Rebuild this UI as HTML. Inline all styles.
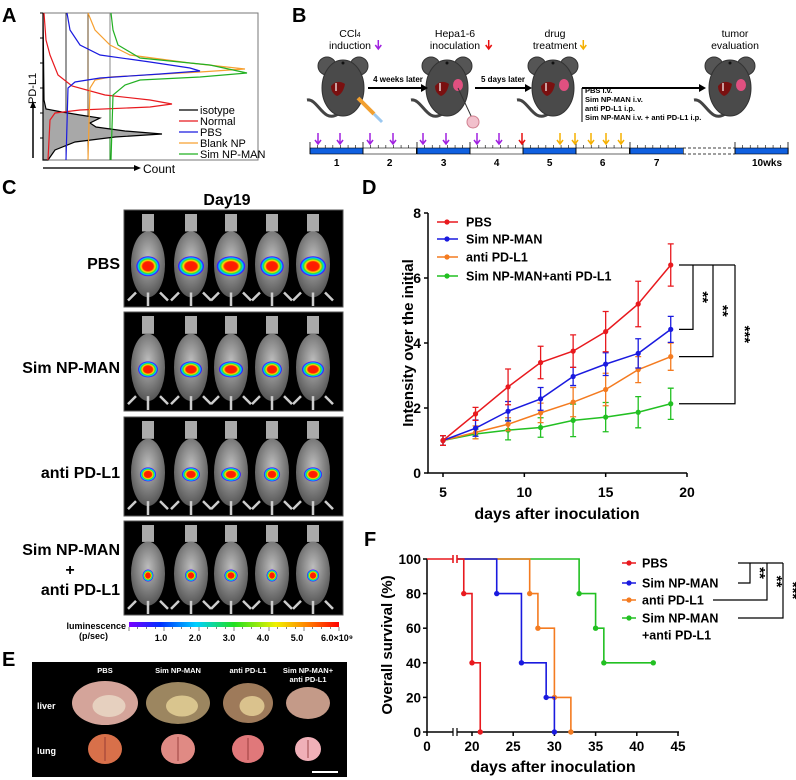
<!DOCTYPE html>
<html><head><meta charset="utf-8"><style>
html,body{margin:0;padding:0;background:#fff;}
svg{display:block;font-family:"Liberation Sans",Arial,sans-serif;}
</style></head><body>
<svg id="fig" width="796" height="780" viewBox="0 0 796 780" xmlns="http://www.w3.org/2000/svg">
<defs>
<radialGradient id="heat" cx="50%" cy="50%" r="50%">
<stop offset="0%" stop-color="#ff1a00"/><stop offset="45%" stop-color="#ff2000"/><stop offset="60%" stop-color="#ffe000"/><stop offset="72%" stop-color="#30e030"/><stop offset="84%" stop-color="#00c8ff"/><stop offset="94%" stop-color="#2030ff"/><stop offset="100%" stop-color="#7000ff"/>
</radialGradient>
<linearGradient id="cbar" x1="0" x2="1" y1="0" y2="0">
<stop offset="0%" stop-color="#7a00ff"/><stop offset="15%" stop-color="#0030ff"/><stop offset="32%" stop-color="#00d0ff"/><stop offset="50%" stop-color="#20e020"/><stop offset="70%" stop-color="#f0f000"/><stop offset="85%" stop-color="#ff8000"/><stop offset="100%" stop-color="#ff0000"/>
</linearGradient>
<radialGradient id="mouseg" cx="50%" cy="40%" r="60%"><stop offset="0%" stop-color="#bdbdbd"/><stop offset="100%" stop-color="#555"/></radialGradient>
</defs>

<text x="2" y="22" font-size="20" font-weight="bold">A</text>
<text x="292" y="22" font-size="20" font-weight="bold">B</text>
<text x="2" y="194" font-size="20" font-weight="bold">C</text>
<text x="362" y="194" font-size="20" font-weight="bold">D</text>
<text x="2" y="666" font-size="20" font-weight="bold">E</text>
<text x="364" y="546" font-size="20" font-weight="bold">F</text>

<g id="panelA">
<rect x="43" y="13" width="215" height="147" fill="none" stroke="#777" stroke-width="1"/>
<line x1="43" y1="13" x2="43" y2="160" stroke="#000" stroke-width="1"/>
<g id="aTicks"></g>
<g id="aCurves"></g>
<line x1="33" y1="158" x2="33" y2="106" stroke="#000" stroke-width="1.5"/>
<polygon points="33,101 30,108 36,108" fill="#000"/>
<text x="0" y="0" transform="translate(36,104) rotate(-90)" font-size="11">PD-L1</text>
<line x1="43" y1="168" x2="136" y2="168" stroke="#555" stroke-width="2"/>
<polygon points="141,168 134,165 134,171" fill="#000"/>
<text x="143" y="173" font-size="12">Count</text>
<g id="aLegend"></g>
</g>

<g id="panelB"></g>

<g id="panelC">
<text x="227" y="205" font-size="16" font-weight="bold" text-anchor="middle">Day19</text>
</g>

<g id="panelE"></g>
<g id="panelD"></g>
<g id="panelF"></g>
</svg>
<script>
// ---------- Panel D data ----------
const dDays = [5,7,9,11,13,15,17,19];
const dSeriesNames = ["PBS","Sim NP-MAN","anti PD-L1","Sim NP-MAN+anti PD-L1"];
const dPBS = [1,1.82,2.65,3.4,3.75,4.35,5.2,6.4];
const dPBSErr = [0.15,0.2,0.55,0.5,0.5,0.62,0.7,0.65];
const dSim = [1,1.38,1.9,2.28,2.97,3.35,3.68,4.42];
const dSimErr = [0.15,0.25,0.3,0.35,0.28,0.35,0.45,0.4];
const dAnti = [1,1.25,1.5,1.85,2.18,2.57,3.18,3.58];
const dAntiErr = [0.15,0.2,0.2,0.3,0.45,0.5,0.4,0.42];
const dCombo = [1,1.2,1.32,1.4,1.62,1.72,1.87,2.13];
const dComboErr = [0.15,0.15,0.3,0.3,0.5,0.45,0.48,0.48];
const dYTicks = [0,2,4,6,8];
const dXTicks = [5,10,15,20];

// ---------- Panel F data ----------
const fNames = ["PBS","Sim NP-MAN","anti PD-L1","Sim NP-MAN\n+anti PD-L1"];
const fPBSTimes = [19,20,21];
const fPBSVals = [80,40,0];
const fSimTimes = [23,26,29,30];
const fSimVals = [80,40,20,0];
const fAntiTimes = [27,28,30,32];
const fAntiVals = [80,60,20,0];
const fComboTimes = [33,35,36,42];
const fComboVals = [80,60,40,40];
const fYTicks = [0,20,40,60,80,100];
const fXTicks = [0,20,25,30,35,40,45];

const COLORS = ["#e8191e","#1a1adf","#f47b20","#22c022"];
const NS = "http://www.w3.org/2000/svg";
function mk(tag, attrs, parent){const e=document.createElementNS(NS,tag);for(const k in attrs)e.setAttribute(k,attrs[k]);parent.appendChild(e);return e;}
function txt(parent,x,y,s,size,extra){const t=mk("text",Object.assign({x:x,y:y,"font-size":size,"font-weight":"bold"},extra||{}),parent);t.textContent=s;return t;}

// ---------- Panel A ----------
const aIso = [[160,48],[150,55],[142,75],[137,115],[134,162],[131,125],[127,96],[123,90],[118,100],[115,80],[112,62],[109,46],[100,44],[13,43]];
const aNormal = [[13,44],[40,46],[55,50],[75,58],[86,72],[95,105],[100,150],[104,172],[107,150],[110,80],[113,55],[120,50],[160,48]];
const aPBS = [[13,67],[30,70],[45,80],[55,100],[62,150],[68,190],[71,200],[74,160],[78,100],[82,75],[88,68],[160,66]];
const aBlank = [[13,88],[30,95],[45,110],[55,130],[63,190],[69,245],[72,200],[77,110],[80,95],[88,90],[160,88]];
const aSimNP = [[13,111],[30,113],[45,118],[58,140],[65,210],[73,247],[77,200],[80,140],[85,125],[95,113],[160,111]];
const aNames = ["isotype","Normal","PBS","Blank NP","Sim NP-MAN"];
(function(){
  const g=document.getElementById("aCurves");
  const tk=document.getElementById("aTicks");
  for(let i=0;i<6;i++){const y=13+i*25;const t=mk("line",{x1:40,y1:y,x2:43,y2:y,stroke:"#000"},tk);
  
  }
  [[66,"#333"],[88,"#6a4a20"],[110,"#888"]].forEach(function(v){const l=mk("line",{x1:v[0],y1:13,x2:v[0],y2:160,stroke:v[1],"stroke-width":1},g);
  
  });
  mk("line",{x1:110,y1:95,x2:110,y2:160,stroke:"#1a8a1a","stroke-width":1},g);
  const fill=mk("path",{d:"M43,160 "+aIso.map(p=>"L"+p[1]+","+p[0]).join(" ")+" Z",fill:"#a8a8a8",stroke:"#000","stroke-width":1.2},g);
  
  
  const sets=[[aNormal,"#e8191e","normal-histogram"],[aBlank,"#f7a030","blank-np-histogram"],[aPBS,"#1a1adf","pbs-histogram"],[aSimNP,"#22b022","sim-np-man-histogram"]];
  sets.forEach(function(s){const p=mk("path",{d:"M"+s[0].map(p=>p[1]+","+p[0]).join(" L"),fill:"none",stroke:s[1],"stroke-width":1.2},g);
  
  });
  const lg=document.getElementById("aLegend");
  const lc=["#000","#e8191e","#1a1adf","#f7a030","#22b022"];
  aNames.forEach(function(n,i){const y=110+i*11;
    const l=mk("line",{x1:179,y1:y,x2:198,y2:y,stroke:lc[i],"stroke-width":1.2},lg);
    
    
    const t=mk("text",{x:200,y:y+4,"font-size":11},lg);t.textContent=n;
    
    });
})();

// ---------- Panel B ----------
(function(){
  const g=document.getElementById("panelB");
  const titles=[[350,"CCl","induction","#a020e0","4"],[455,"Hepa1-6","inoculation","#e81010",""],[555,"drug","treatment","#f5b000",""],[735,"tumor","evaluation",null,""]];
  titles.forEach(function(t){
    const a=txt(g,t[0],37,t[1],10.5,{"text-anchor":"middle","font-weight":"normal"});
    if(t[4]){const s=document.createElementNS(NS,"tspan");s.setAttribute("font-size","7");s.textContent=t[4];a.appendChild(s);}
    
    
    const b=txt(g,t[0],49,t[2],10.5,{"text-anchor":"middle","font-weight":"normal"});
    
    
    if(t[3]){const w=t[2].length*5.4/2+4;const ax=t[0]+w;
      const ar=mk("path",{d:"M"+ax+",40 L"+ax+",48 M"+(ax-3)+",45 L"+ax+",49 L"+(ax+3)+",45",stroke:t[3],"stroke-width":1.5,fill:"none"},g);
      
      }
  });
  [343,447,553,730].forEach(function(cx,i){
    const cy=88;
    const m=mk("g",{},g);
    
    
    mk("path",{d:"M"+(cx-5)+","+(cy+26)+" C"+(cx-20)+","+(cy+36)+" "+(cx-25)+","+(cy+10)+" "+(cx-36)+","+(cy+12),stroke:"#444","stroke-width":3,fill:"none"},m);
    mk("circle",{cx:cx-16,cy:cy-22,r:9,fill:"#555",stroke:"#333"},m);
    mk("circle",{cx:cx+16,cy:cy-22,r:9,fill:"#555",stroke:"#333"},m);
    mk("ellipse",{cx:cx,cy:cy,rx:21,ry:28,fill:"#4a4a4a",stroke:"#333"},m);
    mk("circle",{cx:cx,cy:cy-25,r:1.5,fill:"#111"},m);
    mk("path",{d:"M"+(cx-12)+","+(cy-2)+" q6,-7 14,-2 q-2,10 -8,12 q-6,-3 -6,-10 z",fill:"#7a1010"},m);
    mk("line",{x1:cx-7,y1:cy-5,x2:cx-7,y2:cy+3,stroke:"#fff","stroke-width":1.2},m);
    if(i>0) mk("ellipse",{cx:cx+11,cy:cy-3,rx:5,ry:6,fill:"#e05080"},m);
  });
  mk("path",{d:"M358,98 l16,16",stroke:"#f2a030","stroke-width":4},g);
  mk("path",{d:"M374,114 l8,8",stroke:"#9bc8f0","stroke-width":3},g);
  mk("path",{d:"M458,88 l14,30",stroke:"#333","stroke-width":1},g);
  mk("circle",{cx:473,cy:122,r:6,fill:"#f2c0cc",stroke:"#d08090"},g);
  const arrows=[[368,428,"4 weeks later",398],[475,532,"5 days later",503],[582,706,null,0]];
  arrows.forEach(function(a){
    const l=mk("line",{x1:a[0],y1:88,x2:a[1]-5,y2:88,stroke:"#000","stroke-width":2},g);
    
    
    mk("polygon",{points:a[1]+",88 "+(a[1]-7)+",84 "+(a[1]-7)+",92",fill:"#000"},g);
    if(a[2]){const t=txt(g,a[3],82,a[2],8,{"text-anchor":"middle"});
    
    }
  });
  mk("line",{x1:582,y1:88,x2:582,y2:122,stroke:"#000","stroke-width":1},g);
  ["PBS i.v.","Sim NP-MAN i.v.","anti PD-L1 i.p.","Sim NP-MAN i.v. + anti PD-L1 i.p."].forEach(function(s,i){
    const t=txt(g,585,93+i*9,s,7.5);
    
    });
  const segX=[310,363,417,470,523,576,630,735];const segW=53.3;
  const fills=["#1060e0","#fff","#1060e0","#fff","#1060e0","#fff","#1060e0","#1060e0"];
  const labels=["1","2","3","4","5","6","7","10wks"];
  segX.forEach(function(x,i){
    const r=mk("rect",{x:x,y:148,width:segW,height:6,fill:fills[i],stroke:"#000","stroke-width":0.6},g);
    
    
    mk("line",{x1:x,y1:142,x2:x,y2:154,stroke:"#000","stroke-width":0.8},g);
    for(let k=1;k<7;k++){mk("line",{x1:x+k*segW/7,y1:145,x2:x+k*segW/7,y2:148,stroke:"#000","stroke-width":0.6},g);}
    const t=txt(g,i==7?x+32:x+segW/2,166,labels[i],10,{"text-anchor":"middle"});
    
    
  });
  mk("line",{x1:788,y1:142,x2:788,y2:154,stroke:"#000","stroke-width":0.8},g);
  mk("line",{x1:683,y1:148,x2:735,y2:148,stroke:"#000","stroke-width":0.8,"stroke-dasharray":"3,2"},g);
  mk("line",{x1:683,y1:154,x2:735,y2:154,stroke:"#000","stroke-width":0.8,"stroke-dasharray":"3,2"},g);
  const arr=[[318,"#a020e0"],[340,"#a020e0"],[370,"#a020e0"],[393,"#a020e0"],[423,"#a020e0"],[446,"#a020e0"],[477,"#a020e0"],[499,"#a020e0"],[522,"#e81010"],[560,"#f5b000"],[575,"#f5b000"],[591,"#f5b000"],[606,"#f5b000"],[621,"#f5b000"]];
  arr.forEach(function(a){
    const p=mk("path",{d:"M"+a[0]+",133 L"+a[0]+",144 M"+(a[0]-3)+",140 L"+a[0]+",144 L"+(a[0]+3)+",140",stroke:a[1],"stroke-width":1.5,fill:"none"},g);
    
    });
})();

// ---------- Panel C ----------
const cGroups=["PBS","Sim NP-MAN","anti PD-L1","Sim NP-MAN+anti PD-L1"];
(function(){
  const g=document.getElementById("panelC");
  const rows=[[210,307],[312,411],[417,516],[521,615]];
  const spot=[[13,10],[11,8],[9,7],[6,6]];
  const mx=[148,191,231,272,313];
  rows.forEach(function(r,i){
    const box=mk("rect",{x:124,y:r[0],width:219,height:r[1]-r[0],fill:"#000",stroke:"#555","stroke-width":1},g);
    
    
    const h=r[1]-r[0];
    mx.forEach(function(x,j){
      const m=mk("g",{},g);
      
      
      mk("rect",{x:x-6,y:r[0]+4,width:12,height:h*0.18,fill:"#aaa"},m);
      mk("ellipse",{cx:x,cy:r[0]+h*0.56,rx:17,ry:h*0.34,fill:"url(#mouseg)"},m);
      mk("path",{d:"M"+(x-12)+","+(r[0]+h*0.85)+" l-8,8 M"+(x+12)+","+(r[0]+h*0.85)+" l8,8 M"+x+","+(r[0]+h*0.85)+" l0,"+(h*0.14),stroke:"#ccc","stroke-width":2.5},m);
      const sw=spot[i][0]*(0.9+0.1*((j*7)%3)),sh=spot[i][1];
      const s=mk("ellipse",{cx:x,cy:r[0]+h*0.58,rx:sw,ry:sh,fill:"url(#heat)"},g);
      
      
    });
  });
  const lab=[[["PBS"],263],[["Sim NP-MAN"],367],[["anti PD-L1"],472],[["Sim NP-MAN","+","anti PD-L1"],549]];
  lab.forEach(function(l){l[0].forEach(function(s,k){
    const t=txt(g,s=="+"?70:120,l[1]+6+k*20,s,16,{"text-anchor":s=="+"?"middle":"end"});
    
    });});
  const cb=mk("rect",{x:129,y:622,width:210,height:5,fill:"url(#cbar)"},g);
  
  
  for(let k=0;k<=24;k++){mk("line",{x1:129+k*8.75,y1:627,x2:129+k*8.75,y2:k%4==0?631:629,stroke:"#000","stroke-width":0.5},g);}
  ["1.0","2.0","3.0","4.0","5.0","6.0×10⁹"].forEach(function(s,i){
    const t=txt(g,161+i*34+(i==5?6:0),641,s,9,{"text-anchor":"middle"});
    
    });
  const t1=txt(g,126,629,"luminescence",9,{"text-anchor":"end"});
  
  
  const t2=txt(g,108,639,"(p/sec)",9,{"text-anchor":"end"});
  
  
})();

// ---------- Panel E ----------
(function(){
  const g=document.getElementById("panelE");
  const b=mk("rect",{x:32,y:662,width:315,height:115,fill:"#000"},g);
  
  
  const cols=[105,178,248,308];
  const hdr=[["PBS"],["Sim NP-MAN"],["anti PD-L1"],["Sim NP-MAN+","anti PD-L1"]];
  hdr.forEach(function(h,i){h.forEach(function(s,k){const t=txt(g,cols[i],673+k*9,s,7.5,{"text-anchor":"middle",fill:"#fff"});
    
    });});
  const l1=txt(g,37,709,"liver",9,{fill:"#fff"});
  
  
  const l2=txt(g,37,754,"lung",9,{fill:"#fff"});
  
  
  const liverC=["#d4a49a","#9c8660","#9e7a5a","#c49a88"];
  const liverS=[[33,22],[32,21],[25,20],[22,16]];
  const lungC=["#d8704a","#e08a84","#e0787a","#f0b0b8"];
  const lungS=[[17,15],[17,15],[16,14],[13,12]];
  cols.forEach(function(x,i){
    const a=mk("ellipse",{cx:x,cy:703,rx:liverS[i][0],ry:liverS[i][1],fill:liverC[i]},g);
    
    
    if(i<3)mk("ellipse",{cx:x+4,cy:706,rx:liverS[i][0]*0.5,ry:liverS[i][1]*0.5,fill:i==0?"#eadbc8":"#e8d49a",opacity:0.8},g);
    const c=mk("ellipse",{cx:x,cy:749,rx:lungS[i][0],ry:lungS[i][1],fill:lungC[i]},g);
    
    
    mk("line",{x1:x,y1:749-lungS[i][1]+3,x2:x,y2:749+lungS[i][1]-3,stroke:"#8a3030","stroke-width":0.8},g);
  });
  const sb=mk("line",{x1:312,y1:772,x2:338,y2:772,stroke:"#fff","stroke-width":2},g);
  
  
})();

// ---------- Panel D chart ----------
(function(){
  const g=document.getElementById("panelD");
  const X0=443,X1=687,Y0=473,Y8=213;
  const xs=function(d){return X0+(d-5)*(X1-X0)/15;};
  const ys=function(v){return Y0-v*(Y0-Y8)/8;};
  const ax=mk("path",{d:"M428,213 L428,473 L687,473",stroke:"#000","stroke-width":1.5,fill:"none"},g);
  
  
  dYTicks.forEach(function(v){mk("line",{x1:424,y1:ys(v),x2:428,y2:ys(v),stroke:"#000","stroke-width":1.5},g);
    const t=txt(g,421,ys(v)+5,String(v),14,{"text-anchor":"end"});
    
    });
  dXTicks.forEach(function(v){mk("line",{x1:xs(v),y1:473,x2:xs(v),y2:477,stroke:"#000","stroke-width":1.5},g);
    const t=txt(g,xs(v),497,String(v),14,{"text-anchor":"middle"});
    
    });
  const yt=txt(g,0,0,"Intensity over the initial",15,{"text-anchor":"middle",transform:"translate(413,343) rotate(-90)"});
  
  
  const xt=txt(g,557,519,"days after inoculation",16,{"text-anchor":"middle"});
  
  
  const series=[[dPBS,dPBSErr],[dSim,dSimErr],[dAnti,dAntiErr],[dCombo,dComboErr]];
  [3,2,1,0].forEach(function(si){
    const s=series[si],c=COLORS[si];
    const ln=mk("polyline",{points:dDays.map(function(d,i){return xs(d)+","+ys(s[0][i]);}).join(" "),stroke:c,"stroke-width":1.5,fill:"none"},g);
    
    
    dDays.forEach(function(d,i){
      const x=xs(d),yh=ys(s[0][i]+s[1][i]),yl=ys(s[0][i]-s[1][i]);
      const e=mk("path",{d:"M"+x+","+yh+" L"+x+","+yl+" M"+(x-3)+","+yh+" L"+(x+3)+","+yh+" M"+(x-3)+","+yl+" L"+(x+3)+","+yl,stroke:c,"stroke-width":1.3,fill:"none"},g);
      
      
      const p=mk("circle",{cx:x,cy:ys(s[0][i]),r:2.6,fill:c},g);
      
      
    });
  });
  dSeriesNames.forEach(function(n,i){const y=[222,239,257,276][i];
    mk("line",{x1:437,y1:y,x2:458,y2:y,stroke:COLORS[i],"stroke-width":1.5},g);
    mk("circle",{cx:447,cy:y,r:2.6,fill:COLORS[i]},g);
    const t=txt(g,466,y+4.5,n,12.5);
    
    });
  const last=dDays.length-1;
  const yP=ys(dPBS[last]);
  const br=[[693,ys(dSim[last]),"**"],[713,ys(dAnti[last]),"**"],[735,ys(dCombo[last]),"***"]];
  mk("line",{x1:679,y1:yP,x2:735,y2:yP,stroke:"#000","stroke-width":1.2},g);
  br.forEach(function(b){
    const p=mk("path",{d:"M"+b[0]+","+yP+" L"+b[0]+","+b[1]+" L679,"+b[1],stroke:"#000","stroke-width":1.2,fill:"none"},g);
    
    
    const t=txt(g,0,0,b[2],15,{"text-anchor":"middle",transform:"translate("+(b[0]+5)+","+((yP+b[1])/2)+") rotate(90)"});
    
    
  });
})();

// ---------- Panel F chart ----------
(function(){
  const g=document.getElementById("panelF");
  const xs=function(t){return t<=0?427:472+(t-20)*8.24;};
  const ys=function(v){return 732-v*1.73;};
  const ax=mk("path",{d:"M427,559 L427,732 L453,732 M457,732 L679,732",stroke:"#000","stroke-width":1.5,fill:"none"},g);
  
  
  mk("path",{d:"M453,728 L453,736 M457,728 L457,736",stroke:"#000","stroke-width":1.2},g);
  fYTicks.forEach(function(v){mk("line",{x1:423,y1:ys(v),x2:427,y2:ys(v),stroke:"#000","stroke-width":1.5},g);
    const t=txt(g,421,ys(v)+5,String(v),13.5,{"text-anchor":"end"});
    
    });
  fXTicks.forEach(function(v){mk("line",{x1:xs(v),y1:732,x2:xs(v),y2:736,stroke:"#000","stroke-width":1.5},g);
    const t=txt(g,xs(v),751,String(v),13.5,{"text-anchor":"middle"});
    
    });
  const yt=txt(g,0,0,"Overall survival (%)",15,{"text-anchor":"middle",transform:"translate(392,645) rotate(-90)"});
  
  
  const xt=txt(g,553,772,"days after inoculation",16,{"text-anchor":"middle"});
  
  
  const series=[[fPBSTimes,fPBSVals],[fSimTimes,fSimVals],[fAntiTimes,fAntiVals],[fComboTimes,fComboVals]];
  [3,2,1,0].forEach(function(si){
    const s=series[si],c=COLORS[si];
    let d="M457,"+ys(100);let prev=100;
    s[0].forEach(function(t,i){d+=" L"+xs(t)+","+ys(prev)+" L"+xs(t)+","+ys(s[1][i]);prev=s[1][i];});
    const p=mk("path",{d:d,stroke:c,"stroke-width":1.6,fill:"none"},g);
    
    
    s[0].forEach(function(t,i){const m=mk("circle",{cx:xs(t),cy:ys(s[1][i]),r:2.7,fill:c},g);
      
      });
  });
  mk("path",{d:"M427,"+ys(100)+" L453,"+ys(100)+" M453,"+(ys(100)-4)+" L453,"+(ys(100)+4)+" M457,"+(ys(100)-4)+" L457,"+(ys(100)+4),stroke:COLORS[0],"stroke-width":1.6},g);
  const ly=[563,583,600,618];
  fNames.forEach(function(n,i){
    mk("line",{x1:622,y1:ly[i],x2:636,y2:ly[i],stroke:COLORS[i],"stroke-width":1.5},g);
    mk("circle",{cx:629,cy:ly[i],r:2.6,fill:COLORS[i]},g);
    n.split("\n").forEach(function(s,k){const t=txt(g,642,ly[i]+4.5+k*17,s,12.5);
      
      });
  });
  mk("path",{d:"M738,563 L783,563",stroke:"#000","stroke-width":1.2},g);
  const br=[[750,583,738,"**"],[767,600,713,"**"],[783,618,738,"***"]];
  br.forEach(function(b){
    const p=mk("path",{d:"M"+b[0]+",563 L"+b[0]+","+b[1]+" L"+b[2]+","+b[1],stroke:"#000","stroke-width":1.2,fill:"none"},g);
    
    
    const t=txt(g,0,0,b[3],15,{"text-anchor":"middle",transform:"translate("+(b[0]+5)+","+((563+b[1])/2)+") rotate(90)"});
    
    
  });
})();
</script>
</body></html>
